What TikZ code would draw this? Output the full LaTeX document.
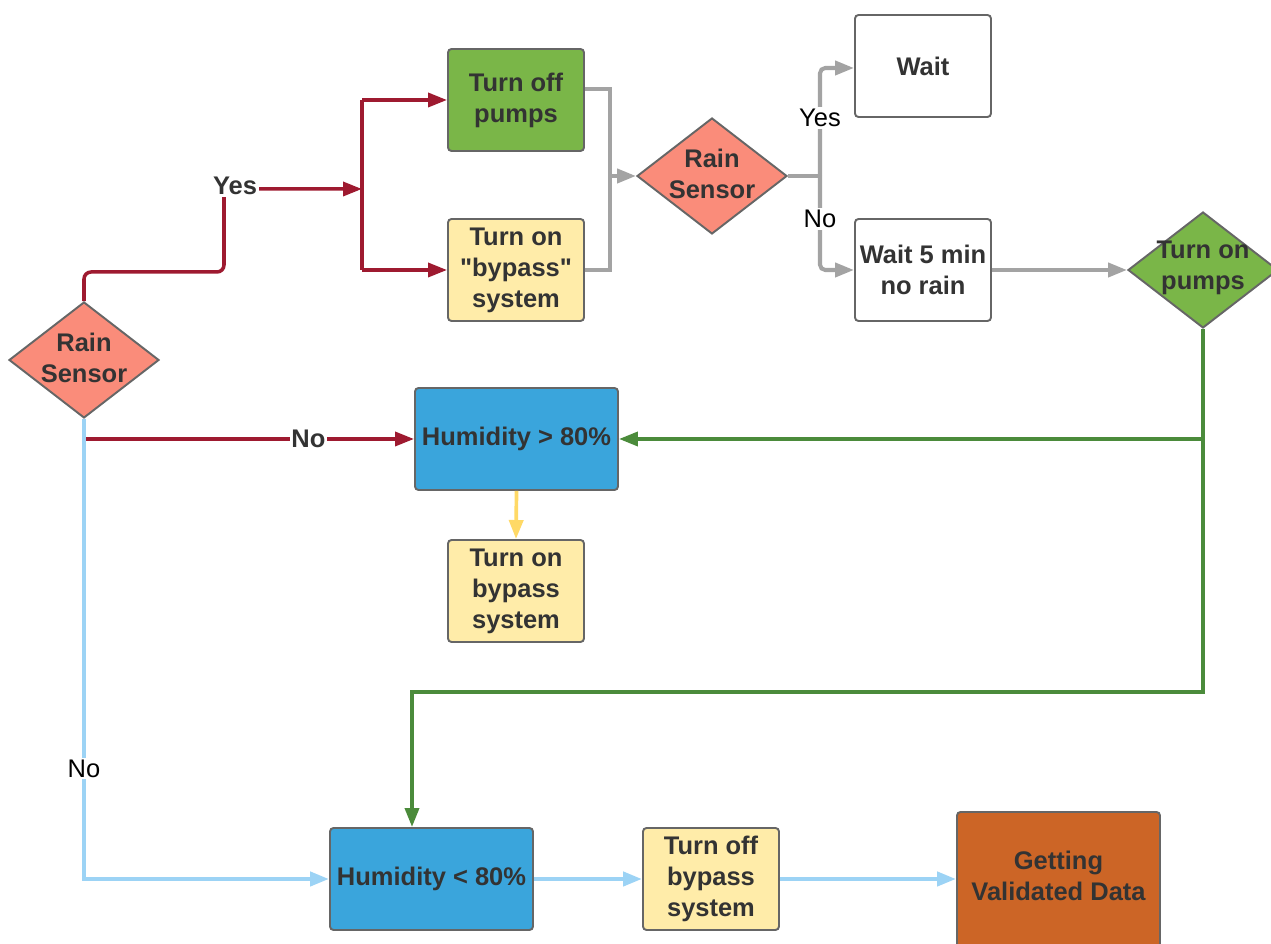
\documentclass[tikz,border=0pt]{standalone}
\usepackage{fontspec}
\setmainfont{Liberation Sans}[Ligatures=TeXOff]
\usepackage{tikz}
\usetikzlibrary{positioning, arrows.meta, shapes.geometric, calc}

\definecolor{txtgray}{HTML}{333333}
\definecolor{edgegray}{HTML}{666666}
\definecolor{lineRed}{HTML}{9E1A30}
\definecolor{lineGray}{HTML}{A3A3A3}
\definecolor{lineGreen}{HTML}{4B8B3B}
\definecolor{lineYellow}{HTML}{FFD966}
\definecolor{lineBlue}{HTML}{9CD3F5}
\definecolor{fillRed}{HTML}{FA8C7A}
\definecolor{fillGreen}{HTML}{7AB648}
\definecolor{fillYellow}{HTML}{FFECA9}
\definecolor{fillBlue}{HTML}{3AA5DC}
\definecolor{fillOrange}{HTML}{CC6526}

\begin{document}
\begin{tikzpicture}[
    box/.style={rectangle, rounded corners=2pt, draw=edgegray, line width=1.1pt,
                minimum width=2.72cm, minimum height=2.04cm, inner sep=0pt,
                align=center, text=txtgray,
                font=\bfseries\fontsize{14.5}{17.6}\selectfont},
    widebox/.style={box, minimum width=4.06cm},
    decision/.style={diamond, draw=edgegray, line width=1.1pt, inner sep=0pt,
                     minimum width=3cm, minimum height=2.32cm},
    dtext/.style={align=center, text=txtgray, inner sep=0pt,
                  font=\bfseries\fontsize{14.5}{17.6}\selectfont},
    tag/.style={fill=white, inner sep=1pt, font=\fontsize{14.5}{17.6}\selectfont},
    boldtag/.style={tag, text=txtgray, font=\bfseries\fontsize{14.5}{17.6}\selectfont},
    tip/.style={-{Triangle[length=3.8mm, width=2.8mm]}},
    redline/.style={draw=lineRed, line width=2pt},
    grayline/.style={draw=lineGray, line width=2.3pt},
    greenline/.style={draw=lineGreen, line width=2.1pt},
    yellowline/.style={draw=lineYellow, line width=2.1pt},
    blueline/.style={draw=lineBlue, line width=2.4pt}
]
    \useasboundingbox (0,0) rectangle (25.42,18.88);

    % === First check ===
    \node[decision, fill=fillRed] (rs1) at (1.68, 11.68) {};
    \node[dtext] at ([yshift=0.04cm]rs1) {Rain\\Sensor};

    \node[box, fill=fillGreen] (top) at (10.32, 16.88) {Turn off\\pumps};
    \node[box, fill=fillYellow] (tob1) at (10.32, 13.48) {Turn on\\"bypass"\\system};
    \coordinate (rsplit) at (7.24, 15.10);

    \draw[redline, tip, rounded corners=4pt] (rs1.north) |- (4.48, 13.44) -- (4.48, 15.10) -- (rsplit);
    \node[boldtag] (yes1) at (4.70, 15.16) {Yes};
    \draw[redline] (rsplit |- top) -- (rsplit |- tob1);
    \draw[redline, tip] (rsplit |- top) -- (top.west);
    \draw[redline, tip] (rsplit |- tob1) -- (tob1.west);

    % === Second check ===
    \coordinate (gjoin) at (12.20, 15.36);
    \node[decision, fill=fillRed] (rs2) at (14.24, 15.36) {};
    \node[dtext] at ([yshift=0.04cm]rs2) {Rain\\Sensor};
    \coordinate (gsplit) at (16.40, 15.36);

    \node[box, fill=white] (wait) at (18.46, 17.56) {Wait};
    \node[box, fill=white] (w5) at (18.46, 13.48) {Wait 5 min\\no rain};

    \node[decision, fill=fillGreen] (top2) at (24.06, 13.48) {};
    \node[dtext] at ([yshift=0.04cm]top2) {Turn on\\pumps};

    \draw[grayline] ([yshift=0.22cm]top.east) -| (gjoin) |- (tob1.east);
    \draw[grayline, tip] (gjoin) -- (rs2.west);
    \draw[grayline] (rs2.east) -- (gsplit);
    \draw[grayline, tip, rounded corners=3pt] (gsplit) |- ([yshift=-0.04cm]wait.west);
    \draw[grayline, tip, rounded corners=3pt] (gsplit) |- (w5.west);
    \node[tag] (yes2) at (16.40, 16.52) {Yes};
    \node[tag] (no2) at (16.40, 14.50) {No};
    \draw[grayline, tip] (w5.east) -- (top2.west);

    % === Humidity checks ===
    \node[widebox, fill=fillBlue] (hgt) at (10.33, 10.10) {Humidity > 80\%};
    \node[box, fill=fillYellow] (tob2) at (10.32, 7.06) {Turn on\\bypass\\system};

    \node[widebox, fill=fillBlue] (hlt) at (8.63, 1.30) {Humidity < 80\%};
    \node[box, fill=fillYellow] (tob3) at (14.22, 1.30) {Turn off\\bypass\\system};
    \node[widebox, fill=fillOrange, minimum height=2.8cm] (gvd) at (21.17, 1.24) {};
    \node[dtext] at ([yshift=0.12cm]gvd) {Getting\\Validated Data};

    \draw[redline, tip] (rs1.south) |- node[boldtag, pos=0.84] (no1) {No} (hgt.west);
    \draw[blueline, tip] (rs1.south) |- node[tag, pos=0.38] (no3) {No} (hlt.west);
    \draw[yellowline, tip] (hgt.south) -- (tob2.north);

    \coordinate (gturn) at (8.24, 5.04);
    \draw[greenline, tip] (top2.south) |- (gturn) -- (gturn |- hlt.north);
    \draw[greenline, tip] (top2.south |- hgt.east) -- (hgt.east);

    \draw[blueline, tip] (hlt.east) -- (tob3.west);
    \draw[blueline, tip] (tob3.east) -- (gvd.west |- tob3.east);

\end{tikzpicture}
\end{document}
